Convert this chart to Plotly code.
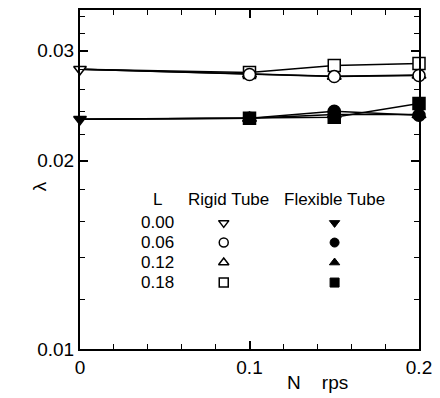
import plotly.graph_objects as go

N = [0.0, 0.1, 0.15, 0.2]
rigid_006 = [0.0280, 0.02747, 0.02726, 0.02737]
rigid_012 = [0.0280, 0.02752, 0.02730, 0.02741]
rigid_018 = [0.0280, 0.02767, 0.02839, 0.02860]
flex_006 = [0.02329, 0.02339, 0.02400, 0.02364]
flex_012 = [0.02329, 0.02339, 0.02372, 0.02370]
flex_018 = [0.02329, 0.02339, 0.02347, 0.02470]
rigid_000 = [0.0280]
flex_000 = [0.02329]

y_ticks = [0.01, 0.02, 0.03]
y_ticktext = ["0.01", "0.02", "0.03"]
y_minor = [0.012, 0.014, 0.016, 0.018, 0.022, 0.024, 0.026, 0.028, 0.032, 0.034]
x_ticks = [0, 0.1, 0.2]
x_ticktext = ["0", "0.1", "0.2"]

legend_L = ["0.00", "0.06", "0.12", "0.18"]
rigid_symbols = ["triangle-down", "circle", "triangle-up", "square"]
flex_symbols = ["triangle-down", "circle", "triangle-up", "square"]

FONT = "Liberation Sans, Arial, sans-serif"
fig = go.Figure()

# drawing order: triangles, squares, circles (circles on top as in the reference)
series = [
    (rigid_012, "triangle-up", "white"),
    (rigid_018, "square", "white"),
    (rigid_006, "circle", "white"),
    (flex_012, "triangle-up", "black"),
    (flex_018, "square", "black"),
    (flex_006, "circle", "black"),
]
for ys, sym, fill in series:
    fig.add_trace(go.Scatter(x=N, y=ys, mode="lines",
                             line=dict(color="black", width=1.5),
                             showlegend=False, cliponaxis=False))
for ys, sym, fill in series:
    fig.add_trace(go.Scatter(x=N[1:], y=ys[1:], mode="markers",
                             marker=dict(symbol=sym, size=12, color=fill,
                                         line=dict(color="black", width=1.5)),
                             showlegend=False, cliponaxis=False))
fig.add_trace(go.Scatter(x=N[:1], y=rigid_000, mode="markers",
                         marker=dict(symbol="triangle-down", size=11, color="white",
                                     line=dict(color="black", width=1.5)),
                         showlegend=False, cliponaxis=False))
fig.add_trace(go.Scatter(x=N[:1], y=flex_000, mode="markers",
                         marker=dict(symbol="triangle-down", size=11, color="black",
                                     line=dict(color="black", width=1.5)),
                         showlegend=False, cliponaxis=False))

# legend block (on an overlay axis with 0-1 range)
row_y = [0.372, 0.314, 0.255, 0.196]
fig.add_trace(go.Scatter(x=[0.424] * 4, y=row_y, mode="markers", xaxis="x2", yaxis="y2",
                         marker=dict(symbol=rigid_symbols, size=9, color="white",
                                     line=dict(color="black", width=1.5)),
                         showlegend=False, hoverinfo="skip"))
fig.add_trace(go.Scatter(x=[0.751] * 4, y=row_y, mode="markers", xaxis="x2", yaxis="y2",
                         marker=dict(symbol=flex_symbols, size=9, color="black",
                                     line=dict(color="black", width=1)),
                         showlegend=False, hoverinfo="skip"))

annotations = [
    dict(x=0.228, y=0.44, text="L"),
    dict(x=0.439, y=0.44, text="Rigid Tube"),
    dict(x=0.751, y=0.44, text="Flexible Tube"),
]
for lab, yy in zip(legend_L, row_y):
    annotations.append(dict(x=0.228, y=yy, text=lab))
annotations = [dict(a, xref="paper", yref="paper", showarrow=False,
                    xanchor="center", yanchor="middle",
                    font=dict(family=FONT, size=17, color="black"))
               for a in annotations]
annotations.append(dict(x=0.70, y=-0.0997, xref="paper", yref="paper", showarrow=False,
                        text="N&nbsp;&nbsp;&nbsp;&nbsp;rps", xanchor="center", yanchor="middle",
                        font=dict(family=FONT, size=19, color="black")))
annotations.append(dict(x=-0.117, y=0.481, xref="paper", yref="paper", showarrow=False,
                        text="λ", textangle=-90, xanchor="center", yanchor="middle",
                        font=dict(family=FONT, size=19, color="black")))

fig.update_layout(
    width=440, height=398,
    margin=dict(l=80, r=18, t=8, b=49),
    paper_bgcolor="white", plot_bgcolor="white",
    font=dict(family=FONT, size=19, color="black"),
    annotations=annotations,
    xaxis=dict(range=[0, 0.2], tickvals=x_ticks, ticktext=x_ticktext,
               ticks="inside", ticklen=8, tickwidth=1.5, tickcolor="black",
               showline=True, linecolor="black", linewidth=2, mirror="allticks",
               showgrid=False, zeroline=False,
               minor=dict(dtick=0.02, tick0=0, ticks="inside", ticklen=5,
                          tickwidth=1.2, tickcolor="black", showgrid=False)),
    yaxis=dict(type="log", range=[-2, -1.458], tickvals=y_ticks, ticktext=y_ticktext,
               ticks="inside", ticklen=8, tickwidth=1.5, tickcolor="black",
               showline=True, linecolor="black", linewidth=2, mirror="allticks",
               showgrid=False, zeroline=False,
               minor=dict(tickmode="array", tickvals=y_minor, ticks="inside", ticklen=5,
                          tickwidth=1.2, tickcolor="black", showgrid=False)),
    xaxis2=dict(overlaying="x", range=[0, 1], visible=False),
    yaxis2=dict(overlaying="y", range=[0, 1], visible=False),
)

fig.write_html("out.html")
